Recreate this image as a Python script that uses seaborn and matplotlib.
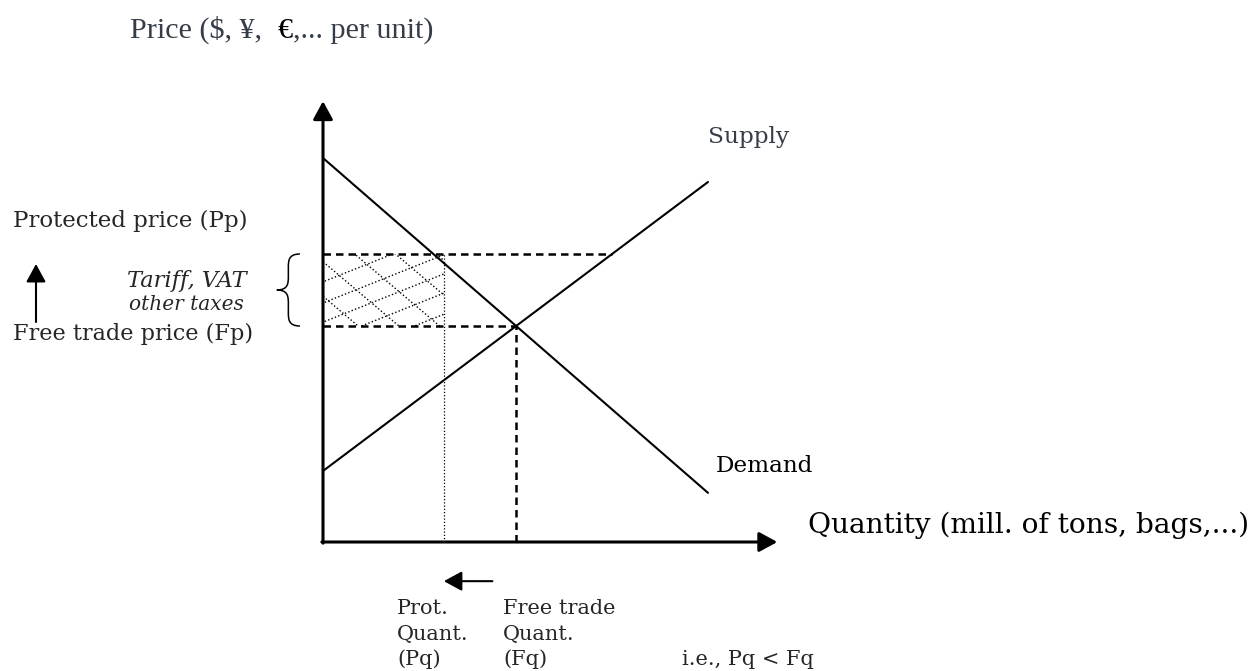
import matplotlib
matplotlib.use("Agg")
import matplotlib.pyplot as plt
import seaborn as sns
import numpy as np
import pandas as pd
from matplotlib.patches import Rectangle, PathPatch, FancyArrowPatch
from matplotlib.path import Path

# ---------------- data ----------------
quantity = [0.0, 10.0]
demand_price = [10.0, 1.28]
supply_price = [1.85, 9.375]
free_trade_price = 5.625
protected_price = 7.5
free_trade_quantity = 5.0
protected_quantity = 3.14
supply_q_at_protected = 7.5

title_prefix = "Price ($, ¥,  "
title_euro = "€"
title_suffix = ",... per unit)"
xlabel_text = "Quantity (mill. of tons, bags,...)"

# ---------------- style ----------------
sns.set_style("white")
plt.rcParams['font.family'] = ['DejaVu Serif', 'DejaVu Sans']

W, H = 1255, 671
fig = plt.figure(figsize=(W / 100, H / 100), dpi=100)
X0, Y0 = 323, 542          # origin in pixels
PX_X, PX_Y = 38.5, 38.4    # pixels per unit
x_max, y_max = 11.8, 11.48
ax = fig.add_axes([X0 / W, (H - Y0) / H, x_max * PX_X / W, y_max * PX_Y / H])
ax.set_xlim(0, x_max)
ax.set_ylim(0, y_max)
ax.axis('off')

GRAY = '#353d48'

# axes with arrows
arrow_style = "-|>,head_length=0.55,head_width=0.3"
ax.annotate("", xy=(x_max, 0), xytext=(-0.03, 0),
            arrowprops=dict(arrowstyle=arrow_style, lw=2.2, color='black',
                            mutation_scale=20, shrinkA=0, shrinkB=0),
            annotation_clip=False)
ax.annotate("", xy=(0, y_max), xytext=(0, -0.03),
            arrowprops=dict(arrowstyle=arrow_style, lw=2.2, color='black',
                            mutation_scale=20, shrinkA=0, shrinkB=0),
            annotation_clip=False)

# demand and supply curves
df = pd.DataFrame({
    'quantity': quantity + quantity,
    'price': demand_price + supply_price,
    'curve': ['Demand'] * 2 + ['Supply'] * 2,
})
sns.lineplot(data=df, x='quantity', y='price', units='curve', estimator=None,
             color='black', lw=1.5, ax=ax, legend=False)
for l in ax.lines:
    l.set_clip_on(False)

# dashed reference lines
dash_kw = dict(color='black', lw=1.8, dashes=(3, 2), clip_on=False)
ax.plot([0, supply_q_at_protected], [protected_price, protected_price], **dash_kw)
ax.plot([0, free_trade_quantity], [free_trade_price, free_trade_price], **dash_kw)
ax.plot([free_trade_quantity, free_trade_quantity], [0, free_trade_price], **dash_kw)
ax.plot([protected_quantity, protected_quantity], [0, protected_price],
        color='black', lw=0.9, linestyle=(0, (1, 1.6)), clip_on=False)

# dotted cross-hatch in the tariff area
rect = Rectangle((0, free_trade_price), protected_quantity,
                 protected_price - free_trade_price, fill=False, lw=0,
                 transform=ax.transData)
ax.add_patch(rect)
xs = np.array([-1.0, protected_quantity + 1.0])
for b in [-0.95, -0.4, 0.1, 0.6, 1.15]:
    ln, = ax.plot(xs, free_trade_price + b + 0.4 * xs, color='black', lw=1.0,
                  linestyle=(0, (1, 1.6)))
    ln.set_clip_path(rect)
for c in [-1.1, -0.2, 0.7, 1.6, 2.5]:
    ln, = ax.plot(xs, protected_price + c - 0.85 * xs, color='black', lw=1.0,
                  linestyle=(0, (1, 1.6)))
    ln.set_clip_path(rect)

# curly brace beside the tariff band
bx_tip, bx_in, bx_out = -1.2, -0.9, -0.6
y_top, y_bot = protected_price, free_trade_price
ym = (y_top + y_bot) / 2
r = 0.18
verts = [(bx_out, y_top), (bx_in, y_top), (bx_in, y_top - r), (bx_in, y_top - 2 * r),
         (bx_in, ym + 2 * r),
         (bx_in, ym + r), (bx_in, ym), (bx_tip, ym),
         (bx_in, ym), (bx_in, ym - r), (bx_in, ym - 2 * r),
         (bx_in, y_bot + 2 * r),
         (bx_in, y_bot + r), (bx_in, y_bot), (bx_out, y_bot)]
codes = [Path.MOVETO, Path.CURVE4, Path.CURVE4, Path.CURVE4,
         Path.LINETO,
         Path.CURVE4, Path.CURVE4, Path.CURVE4,
         Path.CURVE4, Path.CURVE4, Path.CURVE4,
         Path.LINETO,
         Path.CURVE4, Path.CURVE4, Path.CURVE4]
ax.add_patch(PathPatch(Path(verts, codes), fill=False, lw=1.1, color='black',
                       clip_on=False))

# small arrows
ax.annotate("", xy=(protected_quantity, -1.02), xytext=(free_trade_quantity - 0.6, -1.02),
            arrowprops=dict(arrowstyle=arrow_style, lw=1.5,
                            color='black', mutation_scale=20, shrinkA=0, shrinkB=0),
            annotation_clip=False)
fig.patches.append(FancyArrowPatch(
    (36 / W, 1 - 322 / H), (36 / W, 1 - 264 / H), transform=fig.transFigure,
    arrowstyle=arrow_style, lw=1.5, color='black',
    mutation_scale=20, shrinkA=0, shrinkB=0))

# ---------------- text ----------------
renderer = fig.canvas.get_renderer()


def fit_text(s, x_px, base_px, width_px, ha='left', size=None, **kw):
    t = fig.text(x_px / W, 1 - base_px / H, s, ha=ha, va='baseline',
                 fontsize=10 if size is None else size, **kw)
    if size is None:
        w = t.get_window_extent(renderer).width
        t.set_fontsize(10 * width_px / w)
    return t


def width_of(s, size, family):
    t = fig.text(0, 0, s, fontsize=size, family=family)
    w = t.get_window_extent(renderer).width
    t.remove()
    return w


# title (gray, with a black euro sign) drawn as three adjacent pieces
title_family = ['Liberation Serif', 'DejaVu Serif']
full_title = title_prefix + title_euro + title_suffix
ts = 10 * 302 / width_of(full_title, 10, title_family)
w_full = width_of(full_title, ts, title_family)
w_pe = width_of(title_prefix + title_euro, ts, title_family)
w_e = width_of(title_euro, ts, title_family)
w_s = width_of(title_suffix, ts, title_family)
x_t = 130
fit_text(title_prefix.rstrip(), x_t, 38, 0, size=ts, color=GRAY, family=title_family)
fit_text(title_euro, x_t + w_pe - w_e, 38, 0, size=ts, color='black', family=title_family)
fit_text(title_suffix, x_t + w_full - w_s + 1, 38, 0, size=ts, color=GRAY, family=title_family)

fit_text("Supply", 708, 143, 81, color=GRAY)
fit_text("Demand", 716, 472, 98, color='black')
fit_text(xlabel_text, 808, 533, 442, color='black')
fit_text("Protected price (Pp)", 13, 227, 235)
fit_text("Free trade price (Fp)", 13, 340, 241)
fit_text("Tariff, VAT", 187, 287, 119, ha='center', style='italic')
fit_text("other taxes", 186, 310, 115, ha='center', style='italic')

t = fit_text("Free trade", 503, 614, 113)
bs = t.get_fontsize()
fit_text("Prot.", 397, 614, 0, size=bs)
fit_text("Quant.", 397, 640, 0, size=bs)
fit_text("(Pq)", 397, 665, 0, size=bs)
fit_text("Quant.", 503, 640, 0, size=bs)
fit_text("(Fq)", 503, 665, 0, size=bs)
fit_text("i.e., Pq < Fq", 682, 665, 0, size=bs)

fig.savefig("out.png", dpi=100)
